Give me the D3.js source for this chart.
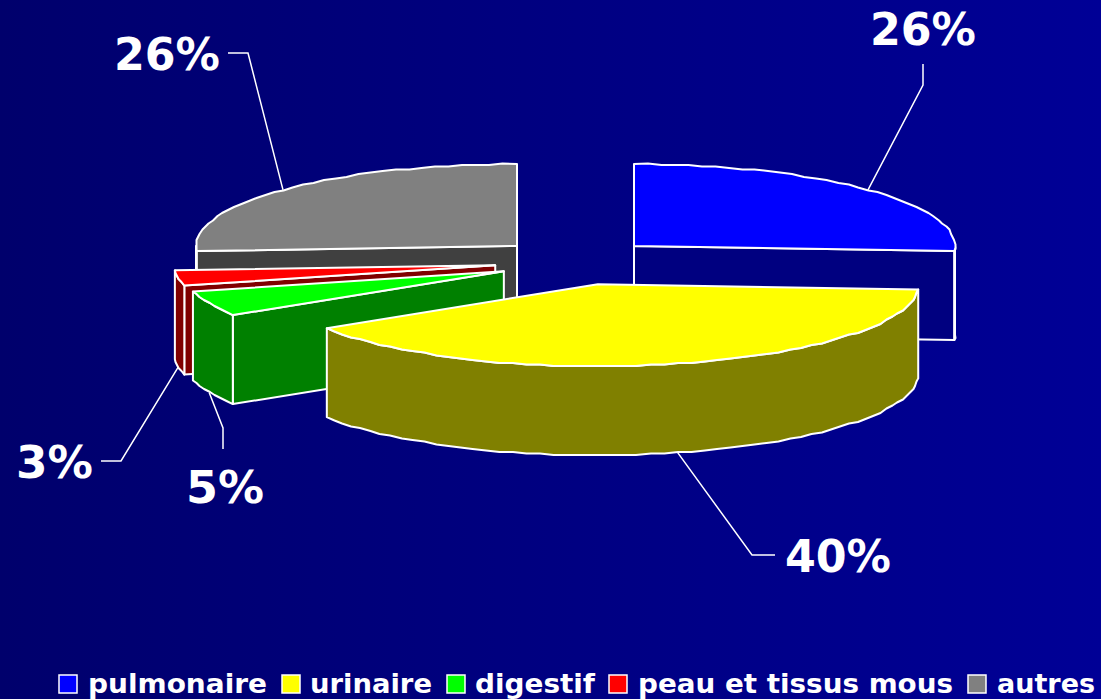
<!DOCTYPE html>
<html><head><meta charset="utf-8">
<script src="https://cdn.jsdelivr.net/npm/d3@7"></script>
<style>html,body{margin:0;padding:0;overflow:hidden;background:#000080}svg{display:block}</style>
</head><body>
<script>
const categories = ["pulmonaire","urinaire","digestif","peau et tissus mous","autres"];
const values = [26,40,5,3,26];
const valueLabels = ["26%","40%","5%","3%","26%"];
const explode = [0.25,0.28,0.25,0.25,0.25];
const topColors = ["#0000ff","#ffff00","#00ff00","#ff0000","#808080"];
const sideColors = ["#000080","#808000","#008000","#800000","#404040"];
const drawOrder = [4,0,3,2,1];

// layout constants
const W=1101,H=699, cx=575.5, cy=261, rx=321, ry=82, depth=89;
const nudgeX=[0,0,2,-1,0], nudgeY=[-1,1,2,1,-1];
const labelX=[870,785,186,16,114], labelY=[45,572,503,478,70], labelW=[106,106,78,77,106];
const elbows=[[[923,64],[923,85]],[[775,555],[752,555]],[[223,449],[223,428]],[[101,461],[121,461]],[[228,53],[248,53]]];
const legendSq=[59,282,447,609,968], legendTx=[88,310,475,638,997], legendTw=[179,122,120,315,98];

const svg=d3.select("body").append("svg").attr("width",W).attr("height",H);
const grad=svg.append("defs").append("linearGradient").attr("id","bg");
grad.append("stop").attr("offset",0).attr("stop-color","#00006c");
grad.append("stop").attr("offset",1).attr("stop-color","#000096");
svg.append("rect").attr("width",W).attr("height",H).attr("fill","url(#bg)");

const x=d3.scaleLinear().domain([-1,1]).range([-rx,rx]);
const y=d3.scaleLinear().domain([-1,1]).range([-ry,ry]);
const arcs=d3.pie().sort(null)(values);
const pt=(c,a)=>[c[0]+x(Math.sin(a)),c[1]+y(-Math.cos(a))];
const q=v=>Math.round(v/1.5)*1.5;
function arcPts(c,a0,a1){
  const n=Math.max(1,Math.ceil((a1-a0)/(2.5*Math.PI/180))),out=[];
  for(let i=0;i<=n;i++){
    const p=pt(c,a0+(a1-a0)*i/n);
    out.push(i==0||i==n?p:[q(p[0]),q(p[1])]);
  }
  return out;
}
const line=d3.line();
const style=s=>s.attr("stroke","#fff").attr("stroke-width",2).attr("stroke-linejoin","round");
const g=svg.append("g");
const PI=Math.PI;
const slices=arcs.map((a,i)=>{
  const mid=(a.startAngle+a.endAngle)/2;
  return {i,a,mid,c:[cx+nudgeX[i]+x(explode[i]*Math.sin(mid)),cy+nudgeY[i]+y(-explode[i]*Math.cos(mid))]};
});
drawOrder.forEach(i=>{
  const s=slices[i],c=s.c,a0=s.a.startAngle,a1=s.a.endAngle,dn=p=>[p[0],p[1]+depth];
  const cut=ang=>{const p=pt(c,ang);
    style(g.append("path")).attr("fill",sideColors[i]).attr("d",line([c,p,dn(p),dn(c)])+"Z");};
  if(a0>PI&&a0<2*PI) cut(a0);
  if(a1<PI&&a1>0) cut(a1);
  const w0=Math.max(a0,PI/2),w1=Math.min(a1,1.5*PI);
  if(w1>w0){
    const top=arcPts(c,w0,w1);
    style(g.append("path")).attr("fill",sideColors[i]).attr("d",line(top.concat(top.map(dn).reverse()))+"Z");
  }
  style(g.append("path")).attr("fill",topColors[i]).attr("d",line([c].concat(arcPts(c,a0,a1)))+"Z");
});

// leader lines and value labels
slices.forEach(s=>{
  const p=pt(s.c,s.mid), front=s.mid>PI/2&&s.mid<1.5*PI;
  const end=[p[0],p[1]+(front?depth:0)];
  svg.append("path").attr("fill","none").attr("stroke","#fff").attr("stroke-width",1.5)
    .attr("d",line(elbows[s.i].concat([end])));
  svg.append("text").attr("x",labelX[s.i]).attr("y",labelY[s.i])
    .attr("font-family","'DejaVu Sans',sans-serif").attr("font-weight","bold").attr("font-size",44)
    .attr("fill","#fff").attr("textLength",labelW[s.i]).attr("lengthAdjust","spacingAndGlyphs")
    .text(valueLabels[s.i]);
});

// legend
categories.forEach((c,i)=>{
  svg.append("rect").attr("x",legendSq[i]).attr("y",675).attr("width",18).attr("height",18)
    .attr("fill",topColors[i]).attr("stroke","#fff").attr("stroke-width",1.5);
  svg.append("text").attr("x",legendTx[i]).attr("y",692.5)
    .attr("font-family","'DejaVu Sans',sans-serif").attr("font-weight","bold").attr("font-size",27)
    .attr("fill","#fff").attr("textLength",legendTw[i]).attr("lengthAdjust","spacingAndGlyphs")
    .text(c);
});
</script>
</body></html>
